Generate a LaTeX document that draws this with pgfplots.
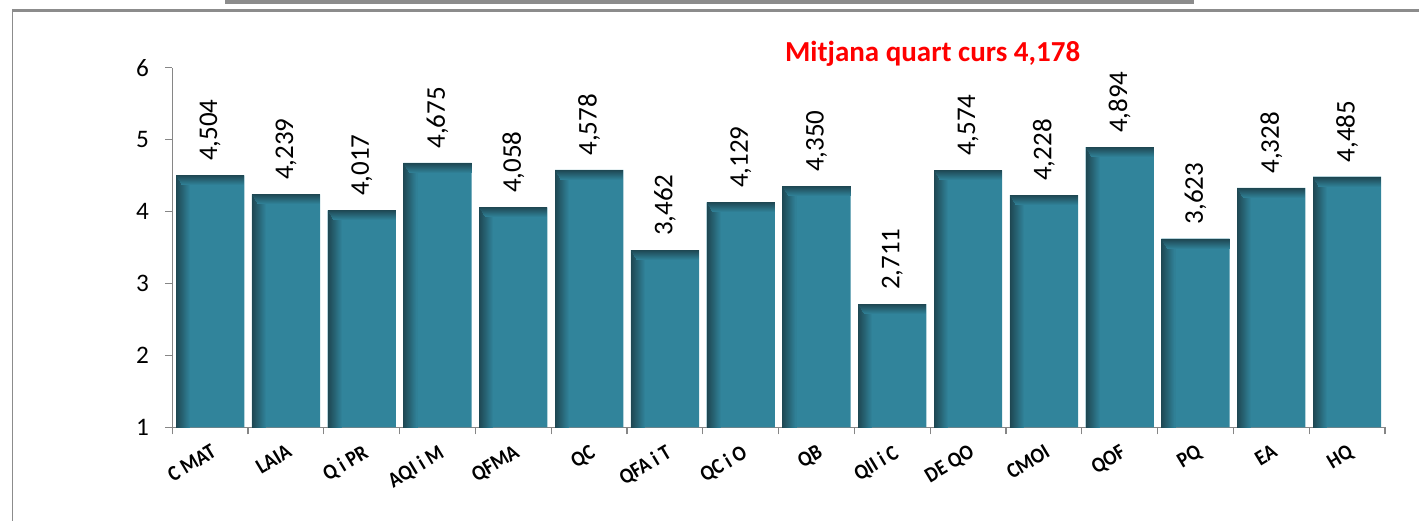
\documentclass[border=0pt]{standalone}
\usepackage{pgfplots}
\pgfplotsset{compat=1.18}
\usepackage{pgfplotstable}
\usepackage{fontspec}
\setmainfont{Carlito}
\newfontfamily\xlabfont[FakeStretch=0.9]{Carlito}
\definecolor{barmain}{HTML}{31849B}
\definecolor{bardark}{HTML}{1E4752}
\definecolor{axgrey}{HTML}{868686}
\definecolor{framegrey}{HTML}{8C8C8C}
\pgfplotstableread{
x y
0 4.504
1 4.239
2 4.017
3 4.675
4 4.058
5 4.578
6 3.462
7 4.129
8 4.350
9 2.711
10 4.574
11 4.228
12 4.894
13 3.623
14 4.328
15 4.485
}\means
% shaded edges of one bar (half width 17.05pt), drawn at the bar's top centre
\pgfdeclareplotmark{barshade}{%
  \foreach \i in {0,...,13}{%
    \pgfmathtruncatemacro\pct{100-\i*100/14}%
    \pgfsetfillcolor{bardark!\pct!barmain}%
    \pgfpathrectangle{\pgfpoint{-17.05pt+\i*0.5pt}{-400pt}}{\pgfpoint{0.55pt}{400pt}}%
    \pgfusepath{fill}%
  }%
  \foreach \i in {0,...,9}{%
    \pgfmathtruncatemacro\pct{100-\i*100/10}%
    \pgfsetfillcolor{bardark!\pct!barmain}%
    \pgfpathrectangle{\pgfpoint{-17.05pt+\i*0.3pt}{-\i*0.5pt-0.55pt}}{\pgfpoint{34.1pt-\i*0.3pt}{0.55pt}}%
    \pgfusepath{fill}%
  }%
}
\begin{document}
\begin{tikzpicture}
\useasboundingbox (0,0) rectangle (709.5pt,261.5pt);
\fill[framegrey] (112.5pt,261.5pt) rectangle (597pt,259.5pt);
\draw[framegrey, line width=1.5pt] (5.9pt,256.25pt) -- (709.5pt,256.25pt);
\draw[framegrey, line width=0.6pt] (6.25pt,257pt) -- (6.25pt,1pt);
\begin{axis}[
  at={(86.15pt,47.85pt)}, anchor=south west,
  scale only axis, width=606.35pt, height=179.8pt,
  xmin=-0.5, xmax=15.5, ymin=1, ymax=6,
  ytick={1,2,3,4,5,6},
  xtick={-0.5,0.5,...,15.5},
  xticklabels={},
  extra x ticks={0,...,15},
  extra x tick labels={C MAT,LAIA,Q i PR,AQI i M,QFMA,QC,QFA i T,QC i O,QB,QII i C,DE QO,CMOI,QOF,PQ,EA,HQ},
  extra x tick style={major tick length=0pt,
    xticklabel style={font=\xlabfont\bfseries\fontsize{10.8}{12}\selectfont, yshift=-8pt, rotate=31, anchor=north east, inner sep=0pt}},
  axis x line*=bottom, axis y line*=left,
  axis line style={axgrey, line width=0.6pt},
  tick style={axgrey, line width=0.6pt},
  tick align=outside,
  major tick length=3.5pt,
  /pgf/number format/assume math mode=true,
  yticklabel style={font=\fontsize{12.6}{14}\selectfont, inner sep=0pt, xshift=-8pt},
  clip marker paths=true,
]
\addplot[ybar, bar width=0.9, bar shift=0pt, fill=barmain, draw=none,
  nodes near coords={\pgfmathprintnumber[fixed,fixed zerofill,precision=3,use comma,assume math mode=true]{\pgfplotspointmeta}},
  every node near coord/.append style={rotate=90, anchor=west, inner sep=0pt, inner xsep=7pt, font=\fontsize{13.5}{15}\selectfont, text=black},
] table[x=x, y=y] {\means};
\addplot[only marks, mark=barshade] table[x=x, y=y] {\means};
\end{axis}
\node[anchor=base, text=red, font=\bfseries\fontsize{14.5}{17}\selectfont] at (466.3pt,230.65pt) {Mitjana quart curs 4,178};
\end{tikzpicture}
\end{document}
